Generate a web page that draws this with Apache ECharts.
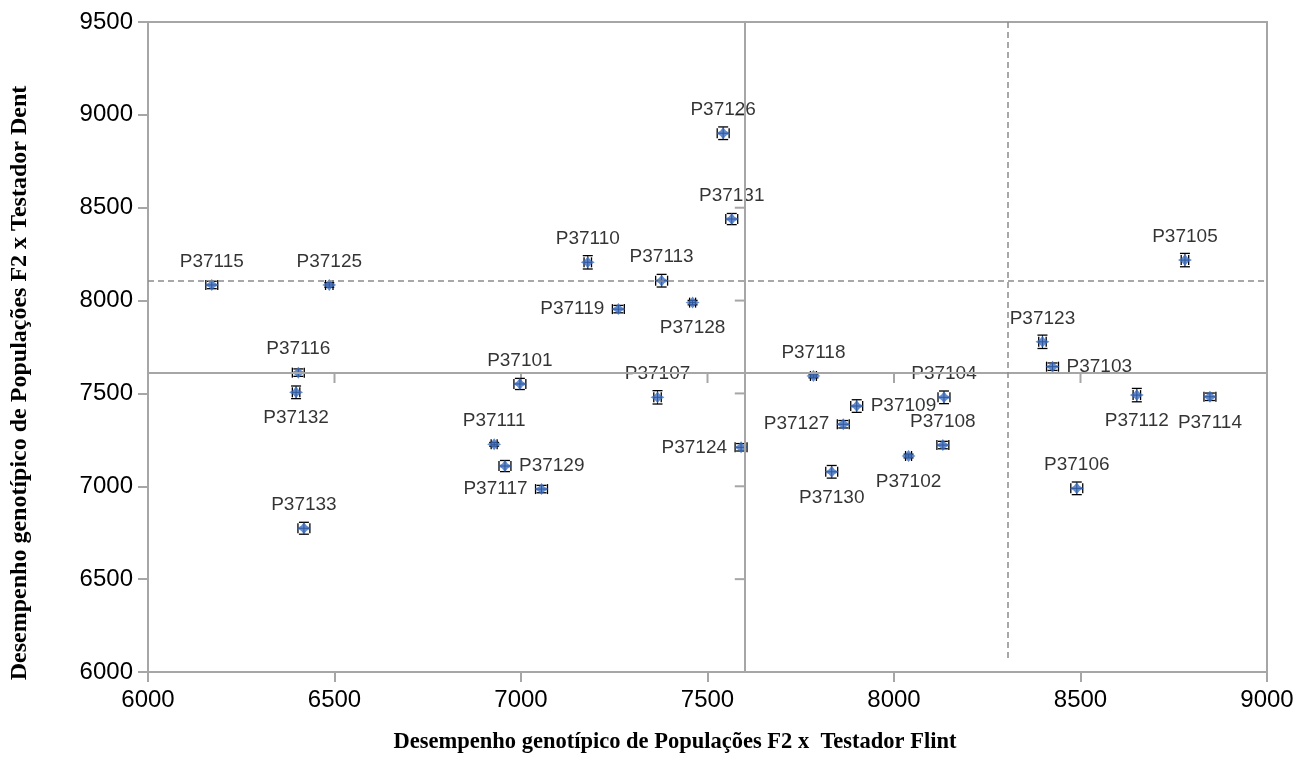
<!DOCTYPE html>
<html><head><meta charset="utf-8">
<script src="https://cdn.jsdelivr.net/npm/echarts@6/dist/echarts.min.js"></script>
<style>html,body{margin:0;padding:0;background:#fff}#c{width:1306px;height:767px}</style>
</head><body><div id="c"></div>
<script>
const names = ['P37115','P37125','P37116','P37132','P37133','P37111','P37101','P37110','P37113','P37119',
  'P37128','P37126','P37131','P37107','P37124','P37129','P37117','P37118','P37109','P37127',
  'P37130','P37102','P37104','P37108','P37123','P37103','P37112','P37114','P37106','P37105'];
const xVals = [6171,6486,6403,6397,6418,6928,6997,7179,7377,7261,
  7460,7542,7565,7366,7590,6957,7055,7784,7900,7864,
  7833,8039,8134,8131,8398,8425,8651,8847,8490,8780];
const yVals = [8084,8084,7612,7506,6774,7226,7551,8206,8107,7954,
  7989,8901,8439,7479,7210,7109,6985,7594,7432,7334,
  7078,7163,7479,7222,7778,7644,7491,7482,6989,8218];
const labelPos = ['top','top','top','bottom','top','top','top','top','top','left',
  'bottom','top','top','top','left','right','left','top','right','left',
  'bottom','bottom','top','top','top','right','bottom','bottom','top','top'];
const errX = [16,10,16,10,16,8,16,10,16,16,8,16,16,10,16,16,16,8,16,16,16,8,16,16,10,16,10,16,16,10];
const errY = [20,12,20,34,32,10,30,36,34,20,12,34,30,36,20,30,20,10,34,20,34,10,34,20,36,20,36,20,34,36];
const meanX = 7600, meanY = 7610;
const refX = 8306, refY = 8105;
const xTicks = [6500,7000,7500,8000,8500];
const yTicks = [6500,7000,7500,8000,8500,9000];
const xTitle = 'Desempenho genotípico de Populações F2 x  Testador Flint';
const yTitle = 'Desempenho genotípico de Populações F2 x Testador Dent';

const gray = '#A6A6A6';
const chart = echarts.init(document.getElementById('c'), null, {renderer:'canvas'});

const distFor = p => p === 'top' ? 8 : (p === 'bottom' ? 10 : 7);

const option = {
  animation: false,
  grid: {left:148, right:39, top:22, bottom:95, show:true, borderColor:gray, borderWidth:2},
  graphic: [
    {type:'text', x:675, y:742, style:{text:xTitle, fontFamily:'Liberation Serif, Times New Roman', fontWeight:'bold', fontSize:22.5, fill:'#000', align:'center', verticalAlign:'middle'}},
    {type:'text', x:20, y:383, rotation:Math.PI/2, style:{text:yTitle, fontFamily:'Liberation Serif, Times New Roman', fontWeight:'bold', fontSize:24, fill:'#000', align:'center', verticalAlign:'middle'}}
  ],
  xAxis: {
    type:'value', min:6000, max:9000, interval:500,
    axisLine:{show:true, lineStyle:{color:gray, width:2}},
    axisTick:{show:true, inside:false, length:10, lineStyle:{color:gray, width:2}},
    axisLabel:{fontSize:24, color:'#000', margin:16, fontFamily:'Liberation Sans, Arial', formatter: v => String(v)},
    splitLine:{show:false}
  },
  yAxis: {
    type:'value', min:6000, max:9500, interval:500,
    axisLine:{show:true, lineStyle:{color:gray, width:2}},
    axisTick:{show:true, inside:false, length:10, lineStyle:{color:gray, width:2}},
    axisLabel:{fontSize:24, color:'#000', margin:15, fontFamily:'Liberation Sans, Arial', formatter: v => String(v)},
    splitLine:{show:false}
  },
  series: [
    {
      type:'custom', silent:true, z:1,
      data:[[meanX, meanY]],
      renderItem: function(params, api){
        const children = [];
        const ls = {stroke:gray, lineWidth:2};
        yTicks.forEach(v => {
          const p = api.coord([meanX, v]);
          children.push({type:'line', shape:{x1:p[0]-10, y1:p[1], x2:p[0], y2:p[1]}, style:ls});
        });
        xTicks.forEach(v => {
          const p = api.coord([v, meanY]);
          children.push({type:'line', shape:{x1:p[0], y1:p[1], x2:p[0], y2:p[1]+10}, style:ls});
        });
        return {type:'group', children};
      }
    },
    {
      type:'custom', silent:true, z:2,
      data: xVals.map((x,i)=>[x, yVals[i], errX[i], errY[i]]),
      renderItem: function(params, api){
        const x = api.value(0), y = api.value(1), ex = api.value(2), ey = api.value(3);
        const l = api.coord([x-ex, y]), r = api.coord([x+ex, y]);
        const t = api.coord([x, y+ey]), b = api.coord([x, y-ey]);
        const c = 5;
        const st = {stroke:'#000', lineWidth:1.3};
        return {type:'group', children:[
          {type:'line', shape:{x1:l[0], y1:l[1], x2:r[0], y2:r[1]}, style:{stroke:'#000', lineWidth:1}},
          {type:'line', shape:{x1:l[0], y1:l[1]-c, x2:l[0], y2:l[1]+c}, style:st},
          {type:'line', shape:{x1:r[0], y1:r[1]-c, x2:r[0], y2:r[1]+c}, style:st},
          {type:'line', shape:{x1:t[0], y1:t[1], x2:b[0], y2:b[1]}, style:{stroke:'#000', lineWidth:1}},
          {type:'line', shape:{x1:t[0]-c, y1:t[1], x2:t[0]+c, y2:t[1]}, style:st},
          {type:'line', shape:{x1:b[0]-c, y1:b[1], x2:b[0]+c, y2:b[1]}, style:st}
        ]};
      }
    },
    {
      type:'scatter', z:3,
      symbol:'path://M5,0L7,3L10,5L7,7L5,10L3,7L0,5L3,3Z',
      symbolSize:[14,12],
      itemStyle:{color:'#3A6BC0'},
      label:{show:true, formatter:'{b}', fontSize:19, color:'#000', fontFamily:'Liberation Sans, Arial'},
      data: names.map((n,i)=>({name:n, value:[xVals[i], yVals[i]],
        label:{position:labelPos[i], distance:distFor(labelPos[i])}})),
      markLine:{
        silent:true, symbol:['none','none'], label:{show:false},
        data:[
          [{coord:[meanX,6000], lineStyle:{color:gray, width:2, type:'solid'}},{coord:[meanX,9500]}],
          [{coord:[6000,meanY], lineStyle:{color:gray, width:2, type:'solid'}},{coord:[9000,meanY]}],
          [{coord:[refX,9500], lineStyle:{color:'#8C8C8C', width:1.5, type:[6,4]}},{coord:[refX,6054]}],
          [{coord:[6000,refY], lineStyle:{color:'#8C8C8C', width:1.5, type:[6,4]}},{coord:[9000,refY]}]
        ]
      }
    }
  ]
};
chart.setOption(option);
</script></body></html>
